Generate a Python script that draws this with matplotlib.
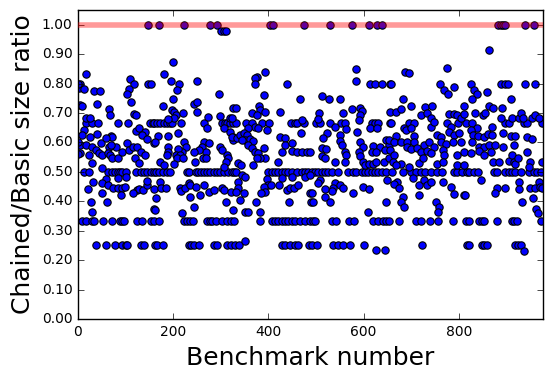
import numpy as np
import matplotlib
matplotlib.use('Agg')
import matplotlib.pyplot as plt

plt.style.use('classic')

#### data: benchmark numbers that sit on the common ratio levels ####
bench_ratio_1 = [147, 170, 223, 277, 292, 404, 410, 474, 530, 576, 612, 628, 638,
                 882, 888, 892, 898, 939, 958]
bench_ratio_098 = [300, 306, 312]
bench_ratio_080 = [5, 148, 153, 439, 613, 624, 638, 655, 657, 761, 825, 888, 897,
                   904, 939, 960]
bench_ratio_067 = [16, 30, 43, 84, 105, 151, 158, 160, 166, 173, 180, 187, 193, 197,
                   216, 264, 303, 308, 314, 320, 326, 331, 352, 366, 387, 401, 448,
                   455, 460, 474, 500, 508, 529, 553, 561, 617, 624, 631, 655, 658,
                   696, 705, 775, 798, 815, 828, 898, 905, 937, 944, 975]
bench_ratio_050 = [13, 23, 62, 72, 78, 83, 88, 93, 100, 121, 132, 139, 146, 153, 160,
                   163, 170, 179, 187, 193, 229, 233, 247, 253, 258, 264, 271, 278,
                   285, 292, 299, 307, 316, 323, 327, 400, 407, 414, 421, 428, 435,
                   442, 449, 460, 470, 477, 484, 491, 498, 505, 512, 519, 526, 533,
                   547, 567, 578, 585, 596, 603, 610, 617, 624, 631, 638, 648, 660,
                   682, 699, 710, 720, 730, 741, 755, 765, 789, 797, 807, 818, 821,
                   832, 841, 874, 881, 898, 905, 912, 919, 930, 947, 958, 965, 972]
bench_ratio_033 = [9, 16, 30, 34, 53, 71, 88, 93, 97, 125, 134, 153, 160, 170, 222,
                   228, 236, 242, 271, 277, 282, 289, 303, 313, 321, 327, 383, 407,
                   414, 421, 428, 435, 442, 449, 456, 467, 477, 488, 494, 498, 533,
                   542, 570, 579, 620, 631, 640, 648, 653, 674, 710, 720, 740, 756,
                   787, 815, 821, 842, 849, 853, 881, 911, 916, 922, 972]
bench_ratio_025 = [37, 58, 78, 93, 100, 104, 132, 139, 161, 167, 179, 233, 237, 243,
                   254, 285, 292, 314, 321, 330, 338, 428, 435, 446, 456, 463, 485,
                   491, 502, 535, 547, 557, 572, 600, 723, 817, 822, 848, 853, 860,
                   919, 925, 930]

#### data: remaining (benchmark, ratio) points, by range of benchmark number ####
points_0_160 = [
    (16, 0.834), (2, 0.785), (13, 0.783), (34, 0.776), (46, 0.776), (40, 0.732),
    (5, 0.727), (9, 0.725), (65, 0.713), (67, 0.693), (109, 0.817), (118, 0.799),
    (107, 0.783), (104, 0.765), (111, 0.738), (118, 0.695), (121, 0.693), (16, 0.684),
    (25, 0.684), (13, 0.642), (9, 0.625), (26, 0.62), (39, 0.627), (69, 0.623),
    (71, 0.617), (121, 0.639), (128, 0.648), (141, 0.637), (135, 0.625), (146, 0.612),
    (160, 0.599), (5, 0.591), (16, 0.591), (30, 0.586), (48, 0.597), (58, 0.614),
    (65, 0.586), (79, 0.583), (69, 0.591), (5, 0.563), (23, 0.557), (37, 0.574),
    (44, 0.563), (51, 0.557), (62, 0.563), (67, 0.557), (72, 0.546), (83, 0.546),
    (93, 0.569), (102, 0.597), (107, 0.574), (116, 0.586), (125, 0.586), (132, 0.567),
    (141, 0.557), (120, 0.546), (128, 0.529), (30, 0.529), (51, 0.514), (100, 0.481),
    (83, 0.478), (58, 0.476), (32, 0.464), (20, 0.442), (51, 0.461), (62, 0.456),
    (74, 0.445), (85, 0.445), (93, 0.445), (99, 0.447), (125, 0.439), (128, 0.442),
    (137, 0.437), (144, 0.456), (146, 0.469), (50, 0.429), (90, 0.422), (116, 0.429),
    (160, 0.442), (27, 0.399), (61, 0.399), (160, 0.373), (30, 0.363), (0, 0.8),
    (0, 0.56), (0, 0.6)]
points_160_325 = [
    (200, 0.874), (180, 0.834), (195, 0.81), (212, 0.799), (208, 0.777), (250, 0.808),
    (296, 0.766), (200, 0.746), (179, 0.725), (244, 0.732), (249, 0.738), (251, 0.704),
    (197, 0.71), (202, 0.704), (205, 0.693), (201, 0.684), (221, 0.699), (190, 0.678),
    (273, 0.687), (298, 0.691), (320, 0.682), (326, 0.716), (271, 0.65), (168, 0.623),
    (189, 0.623), (210, 0.631), (306, 0.648), (319, 0.637), (326, 0.62), (161, 0.6),
    (326, 0.608), (222, 0.6), (226, 0.586), (219, 0.569), (190, 0.586), (190, 0.569),
    (187, 0.557), (211, 0.577), (205, 0.557), (215, 0.557), (209, 0.546), (221, 0.546),
    (264, 0.6), (275, 0.597), (261, 0.586), (268, 0.569), (254, 0.574), (243, 0.569),
    (263, 0.546), (268, 0.546), (299, 0.586), (303, 0.574), (313, 0.557), (316, 0.546),
    (310, 0.532), (306, 0.518), (173, 0.532), (180, 0.523), (201, 0.527), (246, 0.532),
    (172, 0.467), (174, 0.445), (163, 0.411), (184, 0.445), (214, 0.445), (216, 0.435),
    (225, 0.445), (233, 0.461), (236, 0.456), (235, 0.416), (247, 0.45), (257, 0.422),
    (265, 0.456), (275, 0.433), (286, 0.439), (303, 0.445), (306, 0.439), (312, 0.399),
    (321, 0.433), (244, 0.382), (161, 0.371), (219, 0.36)]
points_325_490 = [
    (392, 0.84), (376, 0.823), (371, 0.82), (372, 0.799), (390, 0.761), (467, 0.749),
    (332, 0.716), (380, 0.725), (383, 0.71), (392, 0.704), (425, 0.704), (365, 0.699),
    (376, 0.693), (324, 0.682), (470, 0.676), (372, 0.653), (379, 0.648), (358, 0.648),
    (397, 0.642), (469, 0.631), (324, 0.62), (334, 0.616), (341, 0.625), (348, 0.631),
    (355, 0.625), (351, 0.608), (344, 0.608), (361, 0.612), (368, 0.605), (358, 0.591),
    (365, 0.58), (372, 0.569), (379, 0.563), (390, 0.58), (393, 0.546), (383, 0.546),
    (376, 0.546), (368, 0.523), (425, 0.62), (435, 0.616), (434, 0.591), (449, 0.597),
    (428, 0.569), (449, 0.571), (460, 0.569), (470, 0.569), (481, 0.569), (488, 0.569),
    (421, 0.535), (337, 0.529), (343, 0.523), (333, 0.5), (344, 0.49), (351, 0.484),
    (337, 0.467), (397, 0.476), (400, 0.456), (390, 0.45), (406, 0.456), (428, 0.478),
    (449, 0.481), (477, 0.481), (488, 0.49), (337, 0.445), (331, 0.433), (348, 0.428),
    (341, 0.405), (393, 0.431), (385, 0.428), (423, 0.454), (439, 0.439), (446, 0.445),
    (453, 0.445), (463, 0.456), (487, 0.428), (373, 0.399), (443, 0.399), (490, 0.399),
    (383, 0.365), (325, 0.371), (351, 0.363), (357, 0.363), (350, 0.266)]
points_490_655 = [
    (584, 0.848), (585, 0.81), (512, 0.758), (528, 0.749), (551, 0.749), (575, 0.713),
    (592, 0.716), (596, 0.707), (507, 0.699), (557, 0.699), (592, 0.693), (591, 0.676),
    (505, 0.681), (540, 0.653), (563, 0.645), (613, 0.65), (628, 0.65), (523, 0.631),
    (587, 0.634), (515, 0.614), (550, 0.625), (551, 0.605), (554, 0.591), (592, 0.6),
    (599, 0.586), (620, 0.589), (634, 0.586), (648, 0.608), (654, 0.591), (512, 0.58),
    (521, 0.578), (561, 0.569), (564, 0.557), (591, 0.569), (617, 0.569), (627, 0.569),
    (645, 0.574), (512, 0.555), (519, 0.546), (540, 0.535), (561, 0.532), (593, 0.555),
    (599, 0.535), (603, 0.523), (612, 0.527), (619, 0.526), (627, 0.532), (642, 0.535),
    (654, 0.546), (508, 0.473), (505, 0.461), (540, 0.461), (550, 0.456), (536, 0.445),
    (533, 0.435), (557, 0.445), (519, 0.442), (577, 0.428), (599, 0.447), (612, 0.442),
    (491, 0.428), (519, 0.416), (529, 0.399), (493, 0.399), (647, 0.399), (610, 0.363),
    (627, 0.233), (645, 0.233)]
points_655_815 = [
    (686, 0.84), (696, 0.836), (775, 0.853), (770, 0.778), (777, 0.766), (791, 0.789),
    (682, 0.749), (699, 0.725), (730, 0.721), (743, 0.723), (811, 0.725), (656, 0.704),
    (668, 0.704), (679, 0.713), (720, 0.693), (734, 0.699), (741, 0.682), (780, 0.695),
    (789, 0.695), (797, 0.693), (804, 0.682), (810, 0.695), (684, 0.648), (741, 0.653),
    (783, 0.653), (668, 0.623), (689, 0.642), (700, 0.648), (706, 0.623), (755, 0.625),
    (762, 0.62), (780, 0.637), (790, 0.625), (801, 0.631), (654, 0.608), (664, 0.6),
    (678, 0.6), (692, 0.6), (705, 0.6), (727, 0.591), (738, 0.6), (748, 0.586),
    (762, 0.603), (773, 0.594), (787, 0.6), (804, 0.603), (656, 0.574), (663, 0.557),
    (692, 0.586), (700, 0.578), (713, 0.582), (720, 0.569), (734, 0.571), (741, 0.563),
    (766, 0.574), (770, 0.557), (797, 0.557), (810, 0.569), (661, 0.535), (678, 0.526),
    (696, 0.518), (717, 0.529), (724, 0.546), (754, 0.526), (766, 0.535), (797, 0.523),
    (811, 0.523), (668, 0.523), (650, 0.473), (671, 0.465), (664, 0.458), (675, 0.445),
    (703, 0.478), (717, 0.456), (727, 0.473), (734, 0.456), (741, 0.467), (766, 0.467),
    (783, 0.447), (789, 0.424), (811, 0.422), (682, 0.416), (678, 0.399), (685, 0.382),
    (717, 0.422), (752, 0.399), (759, 0.382), (756, 0.363), (748, 0.671)]
points_815_977 = [
    (863, 0.915), (832, 0.778), (839, 0.766), (827, 0.749), (860, 0.772), (909, 0.747),
    (864, 0.725), (871, 0.718), (890, 0.718), (850, 0.693), (834, 0.699), (856, 0.699),
    (888, 0.682), (912, 0.684), (926, 0.682), (930, 0.699), (936, 0.684), (954, 0.684),
    (961, 0.693), (968, 0.684), (839, 0.65), (825, 0.642), (870, 0.653), (829, 0.625),
    (841, 0.623), (853, 0.62), (862, 0.627), (870, 0.625), (892, 0.631), (909, 0.623),
    (918, 0.623), (944, 0.62), (954, 0.612), (828, 0.6), (842, 0.586), (853, 0.586),
    (863, 0.591), (876, 0.591), (894, 0.586), (916, 0.591), (825, 0.563), (842, 0.571),
    (853, 0.557), (867, 0.569), (871, 0.535), (884, 0.535), (905, 0.537), (912, 0.557),
    (916, 0.535), (919, 0.527), (925, 0.548), (944, 0.566), (950, 0.535), (947, 0.518),
    (974, 0.535), (846, 0.473), (881, 0.445), (877, 0.428), (898, 0.445), (927, 0.465),
    (927, 0.442), (950, 0.445), (961, 0.445), (968, 0.467), (971, 0.447), (975, 0.445),
    (933, 0.399), (957, 0.411), (814, 0.422), (962, 0.375), (967, 0.36), (937, 0.232)]

n_benchmarks = 977

#### collect everything into x / y arrays ####
levels = [(bench_ratio_1, 1.0), (bench_ratio_098, 0.98), (bench_ratio_080, 0.8),
          (bench_ratio_067, 2.0 / 3.0), (bench_ratio_050, 0.5),
          (bench_ratio_033, 1.0 / 3.0), (bench_ratio_025, 0.25)]
x = []
y = []
for bench, ratio in levels:
    x += bench
    y += [ratio] * len(bench)
for seg in [points_0_160, points_160_325, points_325_490, points_490_655,
            points_655_815, points_815_977]:
    x += [p[0] for p in seg]
    y += [p[1] for p in seg]

#### plot ####
fig = plt.figure(figsize=(5.52, 3.8), dpi=100, facecolor='w')
ax = fig.add_axes([0.1413, 0.1605, 0.8424, 0.8132])

ax.scatter(x, y, s=28, c='b', edgecolors='k', linewidths=0.8, zorder=2)
ax.axhline(1.0, color='r', alpha=0.4, linewidth=4, zorder=3)

ax.set_xlim(0, n_benchmarks)
ax.set_ylim(0, 1.05)
ax.set_xticks(np.arange(0, 801, 200))
ax.set_yticks(np.arange(0, 1.01, 0.1))
ax.set_yticklabels(['%.2f' % v for v in np.arange(0, 1.01, 0.1)])
ax.tick_params(labelsize=10)

ax.set_xlabel('Benchmark number', fontsize=18)
ax.set_ylabel('Chained/Basic size ratio', fontsize=18)

plt.savefig('out.png', dpi=100)
